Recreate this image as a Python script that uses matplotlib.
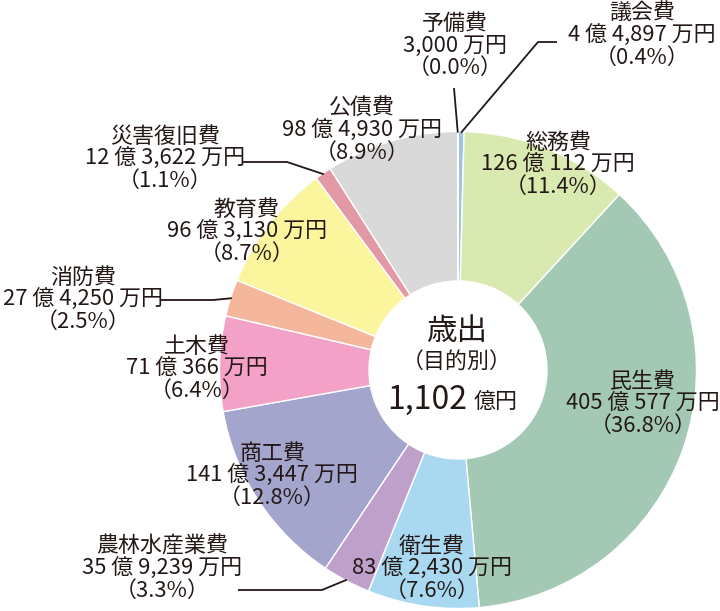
import numpy as np
import matplotlib.pyplot as plt

plt.rcParams['font.family'] = ['Noto Sans CJK JP', 'DejaVu Sans']

# 歳出（目的別）, 単位: 万円
names = ['議会費', '総務費', '民生費', '衛生費', '農林水産業費', '商工費',
         '土木費', '消防費', '教育費', '災害復旧費', '公債費', '予備費']
amounts = [44897, 1260112, 4050577, 832430, 359239, 1413447,
           710366, 274250, 963130, 123622, 989930, 3000]
amount_labels = ['4 億 4,897 万円', '126 億 112 万円', '405 億 577 万円',
                 '83 億 2,430 万円', '35 億 9,239 万円', '141 億 3,447 万円',
                 '71 億 366 万円', '27 億 4,250 万円', '96 億 3,130 万円',
                 '12 億 3,622 万円', '98 億 4,930 万円', '3,000 万円']
percents = ['0.4', '11.4', '36.8', '7.6', '3.3', '12.8',
            '6.4', '2.5', '8.7', '1.1', '8.9', '0.0']
colors = ['#9dc3e6', '#d9eab0', '#a3c9b5', '#a8d9f0', '#bea0cb', '#a3a5cd',
          '#f4a1c8', '#f5b79c', '#fbf59e', '#e399a5', '#d9d9d9', '#ffffff']
total_label = '1,102'

# layout in pixels of the 720x611 picture
CX, CY, R = 458, 370, 238.5
W, H = 720, 611


def px(x, y):
    return (x - CX) / R, (CY - y) / R


# label block centres (pixels)
label_pos = {
    '議会費': (642, 36), '総務費': (558, 165), '民生費': (643, 404),
    '衛生費': (432, 569), '農林水産業費': (162, 569), '商工費': (272, 476),
    '土木費': (197, 369), '消防費': (83, 300), '教育費': (247, 232),
    '災害復旧費': (165, 159), '公債費': (362, 131), '予備費': (455, 46),
}
# leader lines: points from the text end towards the wedge (pixels)
leaders = {
    '議会費': [(557, 42), (538, 42)],
    '予備費': [(454, 88)],
    '災害復旧費': [(243, 162), (287, 162)],
    '消防費': [(160, 300), (213, 300)],
    '農林水産業費': [(238, 590), (322, 590)],
}

fig = plt.figure(figsize=(W / 100, H / 100), dpi=100)
ax = fig.add_axes([0, 0, 1, 1])
x0, _ = px(0, 0)
x1, _ = px(W, 0)
_, y0 = px(0, H)
_, y1 = px(0, 0)

wedges, _ = ax.pie(amounts, colors=colors, startangle=90, counterclock=False,
                   radius=1.0, wedgeprops=dict(width=1 - 89 / R, edgecolor='white',
                                               linewidth=1.0))
ax.set_xlim(x0, x1)
ax.set_ylim(y0, y1)
ax.set_aspect('auto')
ax.axis('off')

for i, name in enumerate(names):
    tx, ty = px(*label_pos[name])
    txt = f'{name}\n{amount_labels[i]}\n（{percents[i]}%）'
    ax.text(tx, ty, txt, ha='center', va='center', fontsize=15.8,
            linespacing=1.0, color='#231815')
    if name in leaders:
        w = wedges[i]
        mid = np.deg2rad((w.theta1 + w.theta2) / 2)
        pts = [px(*p) for p in leaders[name]]
        pts.append((0.995 * np.cos(mid), 0.995 * np.sin(mid)))
        xs, ys = zip(*pts)
        ax.plot(xs, ys, color='#231815', lw=1.3, solid_capstyle='butt')

# centre text
ax.text(*px(457, 331), '歳出', ha='center', va='center', fontsize=22, color='#231815')
ax.text(*px(457, 363), '（目的別）', ha='center', va='center', fontsize=15.8,
        color='#231815')
ax.text(*px(467, 409), total_label, ha='right', va='baseline', fontsize=23,
        color='#231815')
ax.text(*px(474, 409), '億円', ha='left', va='baseline', fontsize=15.8,
        color='#231815')

fig.savefig('out.png', dpi=100)
